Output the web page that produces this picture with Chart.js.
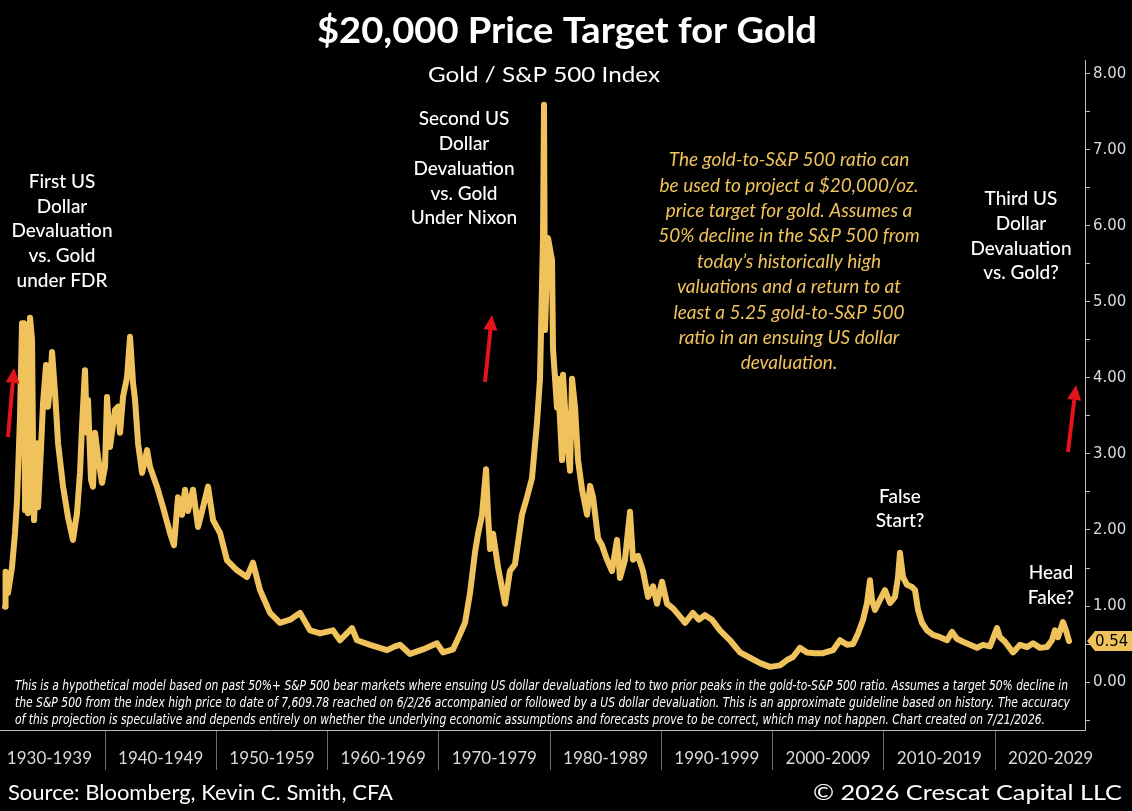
<!DOCTYPE html>
<html>
<head>
<meta charset="utf-8">
<title>$20,000 Price Target for Gold</title>
<script src="https://cdn.jsdelivr.net/npm/chart.js@4.4.1/dist/chart.umd.min.js"></script>
<style>
  html, body { margin: 0; padding: 0; background: #000; }
  canvas { display: block; }
</style>
</head>
<body>
<canvas id="goldChart" width="1132" height="811"></canvas>
<script>
/* ============================================
   Gold / S&P 500 ratio chart
   values
   ============================================ */

// =====================
// DATA
// =====================
const years = [
    1931.01, 1931.06, 1931.28, 1931.64, 1931.91, 1932.09, 1932.18, 1932.36, 1932.54, 1932.72,
    1932.81, 1932.99, 1933.08, 1933.26, 1933.44, 1933.53, 1933.62, 1933.89, 1933.98, 1934.25,
    1934.43, 1934.70, 1934.88, 1935.06, 1935.24, 1935.51, 1935.78, 1936.23, 1936.67, 1937.12,
    1937.48, 1937.75, 1937.93, 1938.20, 1938.38, 1938.47, 1938.74, 1938.92, 1939.10, 1939.37,
    1939.73, 1940.00, 1940.18, 1940.45, 1940.90, 1941.17, 1941.35, 1941.62, 1941.98, 1942.25,
    1942.52, 1942.70, 1942.97, 1943.33, 1943.78, 1944.04, 1944.67, 1945.21, 1945.84, 1946.20,
    1946.56, 1946.92, 1947.19, 1947.46, 1947.91, 1948.36, 1948.81, 1949.26, 1949.71, 1950.34,
    1950.97, 1951.87, 1952.76, 1953.30, 1953.93, 1954.83, 1955.73, 1956.63, 1957.53, 1958.43,
    1959.33, 1960.49, 1961.12, 1962.20, 1962.65, 1963.82, 1965.35, 1966.07, 1966.52, 1967.42,
    1968.58, 1969.84, 1970.38, 1971.28, 1971.91, 1972.36, 1972.81, 1973.26, 1973.53, 1973.89,
    1974.25, 1974.43, 1974.61, 1974.88, 1975.33, 1975.96, 1976.40, 1976.85, 1977.48, 1977.93,
    1978.38, 1978.83, 1979.10, 1979.37, 1979.46, 1979.55, 1979.82, 1980.18, 1980.27, 1980.63,
    1980.72, 1981.08, 1981.17, 1981.53, 1981.80, 1981.98, 1982.25, 1982.52, 1982.88, 1983.33,
    1983.60, 1983.87, 1984.32, 1984.67, 1985.12, 1985.57, 1986.02, 1986.29, 1986.74, 1987.19,
    1987.46, 1987.91, 1988.36, 1988.81, 1989.26, 1989.62, 1990.07, 1990.52, 1991.06, 1991.69,
    1992.14, 1992.85, 1993.39, 1993.93, 1994.56, 1995.28, 1996.18, 1997.08, 1997.98, 1998.88,
    1999.78, 2000.67, 2001.30, 2001.84, 2002.47, 2003.10, 2003.82, 2004.54, 2005.44, 2006.07,
    2006.70, 2007.24, 2007.69, 2008.14, 2008.50, 2008.76, 2008.94, 2009.21, 2009.66, 2010.11,
    2010.56, 2011.01, 2011.28, 2011.46, 2011.73, 2012.09, 2012.54, 2012.81, 2013.08, 2013.44,
    2013.89, 2014.43, 2015.06, 2015.69, 2016.14, 2016.58, 2017.12, 2017.75, 2018.38, 2018.92,
    2019.55, 2020.18, 2020.45, 2020.90, 2021.62, 2022.25, 2022.88, 2023.42, 2024.05, 2024.67,
    2025.12, 2025.39, 2025.66, 2026.11, 2026.38, 2026.65
];

const ratio = [
    0.99, 1.45, 1.17, 1.51, 1.96, 2.39, 2.75, 3.49, 4.72, 4.72,
    2.26, 3.71, 2.22, 4.79, 4.50, 3.09, 2.13, 3.14, 2.30, 3.09,
    3.67, 4.17, 3.62, 3.90, 4.34, 3.80, 3.14, 2.57, 2.17, 1.87,
    2.22, 2.75, 3.36, 4.10, 3.28, 3.71, 2.66, 2.57, 3.28, 2.96,
    2.62, 2.83, 3.75, 3.09, 3.58, 3.62, 3.28, 3.75, 4.01, 4.54,
    3.93, 3.71, 3.14, 2.75, 3.05, 2.83, 2.57, 2.30, 1.96, 1.80,
    2.43, 2.20, 2.53, 2.25, 2.53, 2.04, 2.30, 2.57, 2.13, 1.96,
    1.60, 1.47, 1.38, 1.57, 1.21, 0.91, 0.78, 0.82, 0.91, 0.68,
    0.64, 0.68, 0.55, 0.71, 0.55, 0.49, 0.42, 0.47, 0.49, 0.37,
    0.43, 0.51, 0.39, 0.43, 0.63, 0.78, 1.17, 1.71, 1.95, 2.20,
    2.80, 2.20, 1.75, 1.95, 1.51, 1.03, 1.46, 1.55, 2.20, 2.43,
    2.68, 3.41, 3.99, 5.84, 7.59, 4.63, 5.84, 5.55, 4.38, 3.61,
    3.99, 2.92, 4.04, 3.16, 2.78, 3.99, 3.61, 2.92, 2.53, 2.20,
    2.58, 2.43, 1.89, 1.80, 1.61, 1.46, 1.87, 1.37, 1.61, 2.24,
    1.61, 1.66, 1.46, 1.12, 1.26, 1.03, 1.32, 1.03, 0.97, 0.86,
    0.78, 0.91, 0.82, 0.88, 0.82, 0.68, 0.55, 0.39, 0.32, 0.25,
    0.20, 0.22, 0.29, 0.33, 0.45, 0.39, 0.38, 0.38, 0.42, 0.55,
    0.49, 0.50, 0.64, 0.82, 1.04, 1.34, 1.08, 0.95, 1.08, 1.21,
    1.04, 1.12, 1.38, 1.70, 1.38, 1.28, 1.25, 1.21, 0.95, 0.78,
    0.68, 0.62, 0.59, 0.55, 0.66, 0.57, 0.53, 0.49, 0.45, 0.49,
    0.47, 0.71, 0.59, 0.53, 0.39, 0.49, 0.46, 0.51, 0.45, 0.46,
    0.55, 0.68, 0.59, 0.79, 0.68, 0.54
];

const decadeLabels = [
    "1930-1939", "1940-1949", "1950-1959", "1960-1969", "1970-1979",
    "1980-1989", "1990-1999", "2000-2009", "2010-2019", "2020-2029"
];
const decadeStarts = [1930, 1940, 1950, 1960, 1970, 1980, 1990, 2000, 2010, 2020];
const yTickValues = [-0.5, 0, 0.5, 1, 1.5, 2, 2.5, 3, 3.5, 4, 4.5, 5, 5.5, 6, 6.5, 7, 7.5, 8];
const lastValue = 0.54;

const disclaimerLines = [
    "This is a hypothetical model based on past 50%+ S&P 500 bear markets where ensuing US dollar devaluations led to two prior peaks in the gold-to-S&P 500 ratio. Assumes a target 50% decline in",
    "the S&P 500 from the index high price to date of 7,609.78 reached on 6/2/26 accompanied or followed by a US dollar devaluation. This is an approximate guideline based on history. The accuracy",
    "of this projection is speculative and depends entirely on whether the underlying economic assumptions and forecasts prove to be correct, which may not happen. Chart created on 7/21/2026."
];
const goldNote = [
    "The gold-to-S&P 500 ratio can",
    "be used to project a $20,000/oz.",
    "price target for gold. Assumes a",
    "50% decline in the S&P 500 from",
    "today\u2019s historically high",
    "valuations and a return to at",
    "least a 5.25 gold-to-S&P 500",
    "ratio in an ensuing US dollar",
    "devaluation."
];

const GOLD = "#f0c25c";
const RED = "#e3141b";

// =====================
// HELPERS
// =====================
function fitText(ctx, text, x, y, width, align) {
    let w = ctx.measureText(text).width;
    ctx.save();
    ctx.translate(x, y);
    ctx.scale(width / w, 1);
    ctx.textAlign = align;
    ctx.fillText(text, 0, 0);
    ctx.restore();
}

function textBlock(ctx, lines, x, y0, step) {
    lines.forEach(function (line, i) {
        ctx.fillText(line, x, y0 + i * step);
    });
}

function arrow(ctx, x1, y1, x2, y2) {
    let ang = Math.atan2(y2 - y1, x2 - x1);
    let head = 15;
    let bx = x2 - head * Math.cos(ang);
    let by = y2 - head * Math.sin(ang);
    ctx.strokeStyle = RED;
    ctx.fillStyle = RED;
    ctx.lineWidth = 4;
    ctx.beginPath();
    ctx.moveTo(x1, y1);
    ctx.lineTo(bx, by);
    ctx.stroke();
    ctx.beginPath();
    ctx.moveTo(x2, y2);
    ctx.lineTo(bx + 7 * Math.sin(ang), by - 7 * Math.cos(ang));
    ctx.lineTo(bx - 7 * Math.sin(ang), by + 7 * Math.cos(ang));
    ctx.closePath();
    ctx.fill();
}

// =====================
// TEXT / DECORATION PLUGIN
// =====================
const decorations = {
    id: "decorations",
    afterDraw: function (chart) {
        const ctx = chart.ctx;
        const yScale = chart.scales.y;
        ctx.save();
        ctx.textBaseline = "alphabetic";

        // titles
        ctx.fillStyle = "#ffffff";
        ctx.font = "bold 36px Lato";
        fitText(ctx, "$20,000 Price Target for Gold", 567, 43, 500, "center");
        ctx.font = "22px Lato";
        fitText(ctx, "Gold / S&P 500 Index", 544, 82, 232, "center");

        // footer
        ctx.font = "22px Lato";
        fitText(ctx, "Source: Bloomberg, Kevin C. Smith, CFA", 8, 800, 385, "left");
        fitText(ctx, "\u00A9 2026 Crescat Capital LLC", 1122, 800, 309, "right");

        // disclaimer
        ctx.font = "italic 14px 'Liberation Sans Narrow', 'DejaVu Sans Condensed', sans-serif";
        fitText(ctx, disclaimerLines[0], 15, 690, 1053, "left");
        fitText(ctx, disclaimerLines[1], 15, 707, 1055, "left");
        fitText(ctx, disclaimerLines[2], 15, 724, 1030, "left");

        // white callouts
        ctx.textBaseline = "middle";
        ctx.textAlign = "center";
        ctx.font = "500 19px Lato";
        ctx.fillStyle = "#ffffff";
        textBlock(ctx, ["First US", "Dollar", "Devaluation", "vs. Gold", "under FDR"], 62, 182, 24.6);
        textBlock(ctx, ["Second US", "Dollar", "Devaluation", "vs. Gold", "Under Nixon"], 464, 119, 24.8);
        textBlock(ctx, ["Third US", "Dollar", "Devaluation", "vs. Gold?"], 1021, 199, 24.7);
        textBlock(ctx, ["False", "Start?"], 900, 497, 24);
        textBlock(ctx, ["Head", "Fake?"], 1051, 573, 25);

        // gold italic note
        ctx.font = "italic 19px Lato";
        ctx.fillStyle = GOLD;
        textBlock(ctx, goldNote, 789, 160, 25.4);

        // red arrows
        arrow(ctx, 8, 437, 14, 368);
        arrow(ctx, 485, 382, 492, 315);
        arrow(ctx, 1068, 452, 1076, 385);

        // last value tag on the right axis
        let ty = yScale.getPixelForValue(lastValue);
        let tx = yScale.left + 2;
        ctx.fillStyle = GOLD;
        ctx.beginPath();
        ctx.moveTo(tx, ty);
        ctx.lineTo(tx + 8, ty - 10);
        ctx.lineTo(1132, ty - 10);
        ctx.lineTo(1132, ty + 10);
        ctx.lineTo(tx + 8, ty + 10);
        ctx.closePath();
        ctx.fill();
        ctx.fillStyle = "#000000";
        ctx.textAlign = "left";
        ctx.font = "15px 'DejaVu Sans'";
        ctx.fillText(lastValue.toFixed(2), tx + 8, ty + 1);

        ctx.restore();
    }
};

// =====================
// CHART
// =====================
const points = years.map(function (yr, i) { return { x: yr, y: ratio[i] }; });

new Chart(document.getElementById("goldChart"), {
    type: "line",
    data: {
        datasets: [{
            label: "Gold / S&P 500",
            data: points,
            borderColor: GOLD,
            borderWidth: 6,
            pointRadius: 0,
            tension: 0,
            borderJoinStyle: "round",
            borderCapStyle: "round"
        }]
    },
    options: {
        responsive: false,
        animation: false,
        devicePixelRatio: 1,
        layout: { padding: { left: 0, right: 0, top: 60, bottom: 41 } },
        plugins: {
            legend: { display: false },
            tooltip: { enabled: false }
        },
        scales: {
            x: {
                type: "linear",
                min: 1930.56,
                max: 2028.09,
                afterBuildTicks: function (scale) {
                    let t = [];
                    decadeStarts.forEach(function (d) {
                        if (d >= scale.min) t.push({ value: d });
                        t.push({ value: d + 5 });
                    });
                    scale.ticks = t;
                },
                afterFit: function (scale) { scale.height = 40; },
                border: { display: true, color: "#bdbdbd", width: 1 },
                grid: {
                    drawOnChartArea: false,
                    tickLength: 40,
                    color: function (c) {
                        return c.tick && c.tick.value % 10 === 0 ? "#6a6a6a" : "rgba(0,0,0,0)";
                    }
                },
                ticks: {
                    autoSkip: false,
                    maxRotation: 0,
                    padding: -22,
                    color: "#d9d9d9",
                    font: { family: "Lato", size: 17 },
                    callback: function (value) {
                        let i = decadeStarts.indexOf(value - 5);
                        return i >= 0 ? decadeLabels[i] : "";
                    }
                }
            },
            y: {
                position: "right",
                min: -0.63,
                max: 8.18,
                afterBuildTicks: function (scale) {
                    scale.ticks = yTickValues.map(function (v) { return { value: v }; });
                },
                afterFit: function (scale) { scale.width = 47; },
                border: { display: true, color: "#bdbdbd", width: 1 },
                grid: {
                    drawOnChartArea: false,
                    tickLength: 5,
                    color: "#bdbdbd"
                },
                ticks: {
                    autoSkip: false,
                    padding: 3,
                    color: "#d9d9d9",
                    font: { family: "DejaVu Sans", size: 15 },
                    callback: function (value) {
                        return (value >= 0 && value % 1 === 0) ? value.toFixed(2) : "";
                    }
                }
            }
        }
    },
    plugins: [decorations]
});
</script>
</body>
</html>
